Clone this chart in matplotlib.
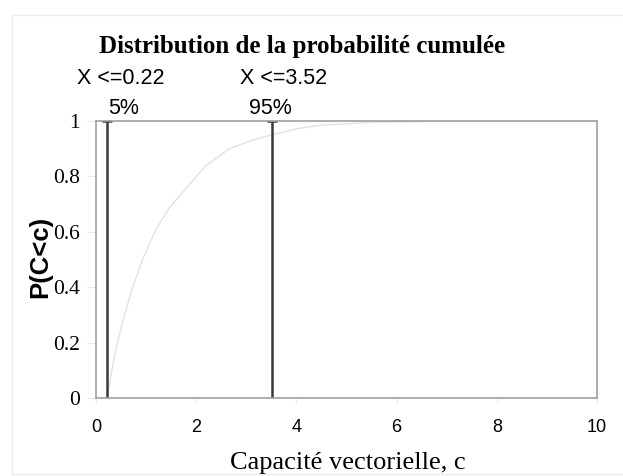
import matplotlib.pyplot as plt
from matplotlib.patches import Rectangle

# cumulative distribution of vectorial capacity
c_values = [0.22, 0.37, 0.53, 0.73, 0.93, 1.20, 1.46, 1.86, 2.20, 2.66, 3.19, 3.52, 4.0, 4.5, 5.5, 7.0, 10.0]
p_values = [0.0, 0.155, 0.275, 0.40, 0.50, 0.61, 0.685, 0.77, 0.84, 0.90, 0.935, 0.95, 0.972, 0.985, 0.995, 0.999, 1.0]

# 5% and 95% percentiles
pct_values = [0.22, 3.52]
pct_labels = ['5%', '95%']

xticks = [0, 2, 4, 6, 8, 10]
yticks = [0, 0.2, 0.4, 0.6, 0.8, 1]
ytick_labels = ['0', '0.2', '0.4', '0.6', '0.8', '1']

serif = 'Liberation Serif'
sans = 'Liberation Sans'
W, H = 623, 476

fig = plt.figure(figsize=(W / 100, H / 100), dpi=100)
ax = fig.add_axes([96 / W, 78 / H, 501 / W, 277 / H])

# faint frame around the whole chart
fig.patches.append(Rectangle((12 / W, 0.005), 1.2, 1 - 15 / H - 0.005,
                             transform=fig.transFigure, fill=False,
                             edgecolor='#ececec', lw=1.0))

ax.plot(c_values, p_values, color='#e2e2e2', lw=1.0)

# label offsets (points) relative to each percentile line
x_offsets = [10, 8]
pct_offsets = [12, -1.5]
for v, lab, dx, dp in zip(pct_values, pct_labels, x_offsets, pct_offsets):
    ax.vlines(v, 0, 1, color='#3a3a3a', lw=1.8)
    ax.hlines(1, v - 0.1, v + 0.1, color='#3a3a3a', lw=1.8)
    ax.annotate('X <=%.2f' % v, xy=(v, H - 78), xycoords=('data', 'figure pixels'),
                xytext=(dx, 0), textcoords='offset points', fontsize=15.5,
                family=sans, ha='center', va='center', annotation_clip=False)
    ax.annotate(lab, xy=(v, H - 108), xycoords=('data', 'figure pixels'),
                xytext=(dp, 0), textcoords='offset points', fontsize=15.5,
                family=sans, ha='center', va='center', annotation_clip=False)

ax.set_xlim(0, 10)
ax.set_ylim(0, 1)
ax.set_xticks(xticks)
ax.set_yticks(yticks)
ax.set_yticklabels(ytick_labels, family=serif, fontsize=15.5)
ax.set_xticklabels([str(t) for t in xticks], family=sans, fontsize=13)
ax.tick_params(axis='y', length=6.5, color='#e8e8e8', pad=5)
ax.tick_params(axis='x', length=4, color='#ececec', pad=11)
for s in ax.spines.values():
    s.set_color('#a0a0a0')
    s.set_linewidth(1.2)

fig.text(348 / W, 1 - 463 / H, 'Capacité vectorielle, c', family=serif,
         fontsize=19, ha='center', va='center')
fig.text(40 / W, 1 - 257 / H, 'P(C<c)', family=sans, fontsize=18.5,
         fontweight='bold', rotation=90, ha='center', va='center')
fig.text(302 / W, 1 - 46 / H, 'Distribution de la probabilité cumulée',
         family=serif, fontsize=18, fontweight='bold', ha='center', va='center')

fig.savefig('out.png', dpi=100)
